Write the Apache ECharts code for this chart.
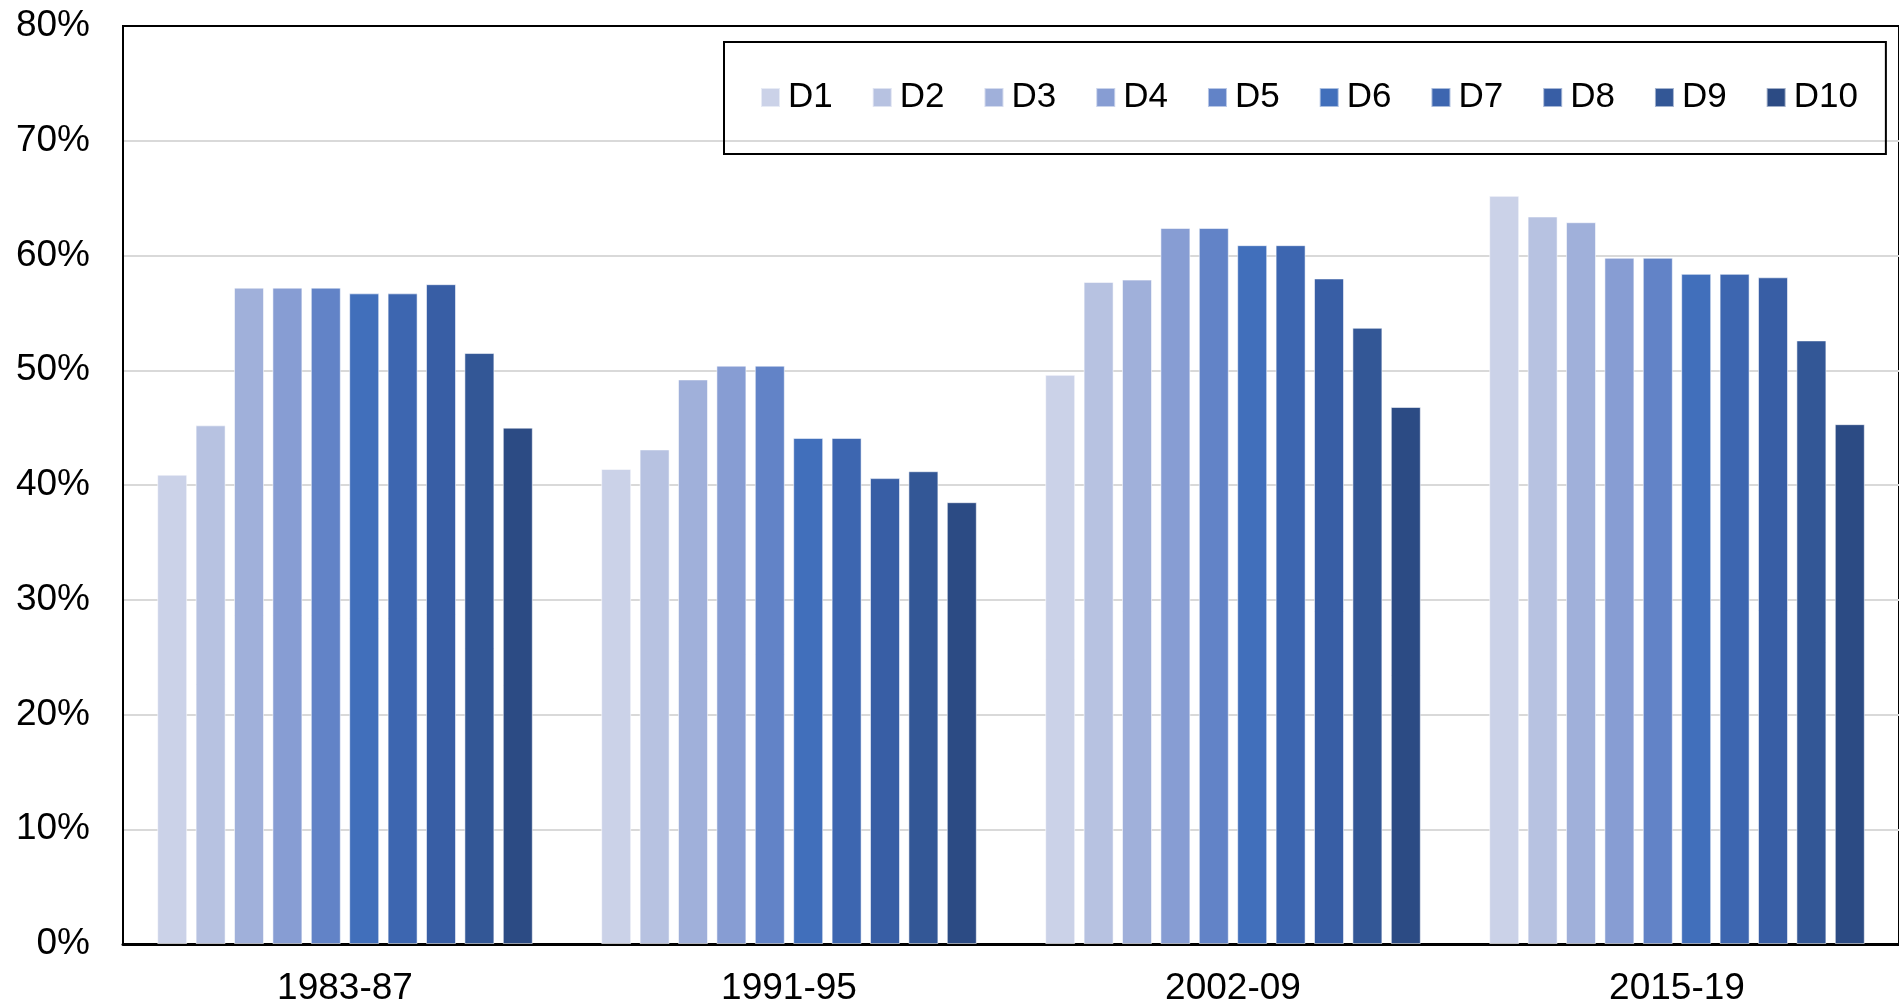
<!DOCTYPE html>
<html>
<head>
<meta charset="utf-8">
<script src="https://cdn.jsdelivr.net/npm/echarts@6/dist/echarts.min.js"></script>
<style>
html,body{margin:0;padding:0;background:#fff;}
#chart{width:1899px;height:1008px;}
</style>
</head>
<body>
<div id="chart"></div>
<script>
const categories = ['1983-87', '1991-95', '2002-09', '2015-19'];
const seriesNames = ['D1','D2','D3','D4','D5','D6','D7','D8','D9','D10'];
const D1  = [40.9, 41.4, 49.6, 65.2];
const D2  = [45.2, 43.1, 57.7, 63.4];
const D3  = [57.2, 49.2, 57.9, 62.9];
const D4  = [57.2, 50.4, 62.4, 59.8];
const D5  = [57.2, 50.4, 62.4, 59.8];
const D6  = [56.7, 44.1, 60.9, 58.4];
const D7  = [56.7, 44.1, 60.9, 58.4];
const D8  = [57.5, 40.6, 58.0, 58.1];
const D9  = [51.5, 41.2, 53.7, 52.6];
const D10 = [45.0, 38.5, 46.8, 45.3];
const seriesValues = [D1, D2, D3, D4, D5, D6, D7, D8, D9, D10];
const colors = ['#CBD2E8','#B7C2E1','#A0B0DA','#879DD3','#6283C7','#416FBB','#3D66B0','#385EA5','#335796','#2C4B84'];
const yTicks = { min: 0, max: 80, interval: 10 };

const FONT = '"Liberation Sans", Arial, sans-serif';
const chart = echarts.init(document.getElementById('chart'), null, { renderer: 'canvas' });

chart.setOption({
  animation: false,
  backgroundColor: '#ffffff',
  color: colors,
  legend: {
    left: 724,
    top: 42,
    padding: [38, 28, 39, 36],
    borderColor: '#000',
    borderWidth: 2,
    itemWidth: 19,
    itemHeight: 19,
    itemGap: 39,
    icon: 'rect',
    textStyle: { fontFamily: FONT, fontSize: 35, color: '#000', padding: [0, 0, 0, 3] },
    data: seriesNames
  },
  grid: {
    left: 123, right: 0, top: 26, bottom: 64,
    show: true, borderColor: '#000', borderWidth: 2
  },
  xAxis: [{
    type: 'category',
    data: categories,
    axisLine: { show: true, lineStyle: { color: '#000', width: 3 } },
    axisTick: { show: false },
    axisLabel: { fontFamily: FONT, fontSize: 37, color: '#000', margin: 26 }
  }, {
    type: 'category',
    position: 'top',
    data: categories,
    axisLine: { show: true, lineStyle: { color: '#000', width: 2 } },
    axisTick: { show: false },
    axisLabel: { show: false },
    splitLine: { show: false }
  }],
  yAxis: {
    type: 'value',
    min: yTicks.min, max: yTicks.max, interval: yTicks.interval,
    axisLine: { show: true, lineStyle: { color: '#000', width: 2 } },
    axisTick: { show: false },
    splitLine: { show: true, lineStyle: { color: '#D9D9D9', width: 2 } },
    axisLabel: { fontFamily: FONT, fontSize: 37, color: '#000', margin: 33, formatter: '{value}%' }
  },
  series: seriesNames.map((name, i) => ({
    name: name,
    type: 'bar',
    xAxisIndex: 0,
    data: seriesValues[i],
    barWidth: 30,
    barGap: '28%',
    itemStyle: { color: colors[i], borderColor: 'rgba(255,255,255,0.55)', borderWidth: 1 }
  }))
});
</script>
</body>
</html>
